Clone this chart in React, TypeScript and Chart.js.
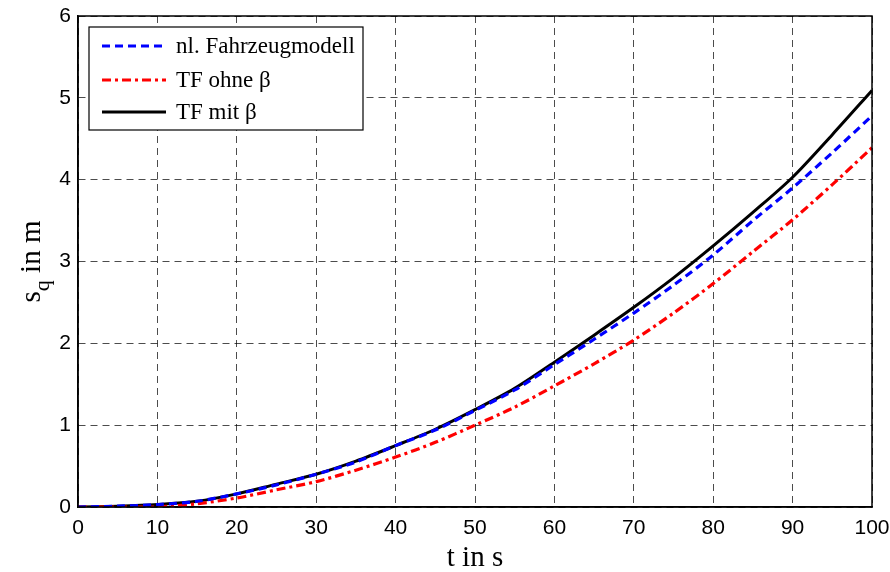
import React, { useEffect, useRef } from "react";
import { Chart, registerables } from "chart.js";

Chart.register(...registerables);

const tValues = [0, 5, 10, 15, 20, 25, 30, 35, 40, 45, 50, 55, 60, 65, 70, 75, 80, 85, 90, 95, 100];
const nlFahrzeugmodell = [0, 0.01, 0.03, 0.07, 0.16, 0.27, 0.40, 0.55, 0.75, 0.94, 1.18, 1.43, 1.74, 2.05, 2.37, 2.71, 3.08, 3.50, 3.90, 4.33, 4.78];
const tfOhneBeta = [0, 0, 0, 0.04, 0.11, 0.21, 0.31, 0.45, 0.61, 0.79, 1.00, 1.22, 1.48, 1.75, 2.04, 2.37, 2.73, 3.12, 3.51, 3.94, 4.39];
const tfMitBeta = [0, 0.01, 0.03, 0.07, 0.16, 0.28, 0.40, 0.56, 0.75, 0.95, 1.19, 1.45, 1.77, 2.10, 2.44, 2.80, 3.19, 3.60, 4.03, 4.55, 5.09];
const seriesLabels = ["nl. Fahrzeugmodell", "TF ohne β", "TF mit β"];
const xTicks = [0, 10, 20, 30, 40, 50, 60, 70, 80, 90, 100];
const yTicks = [0, 1, 2, 3, 4, 5, 6];

const SERIF = "'Liberation Serif', 'Times New Roman', serif";
const SANS = "'Liberation Sans', Arial, sans-serif";

const decoPlugin = {
  id: "deco",
  afterDraw(chart: any) {
    const { ctx, chartArea } = chart;
    const { left, right, top, bottom } = chartArea;
    ctx.save();
    ctx.strokeStyle = "#000";
    ctx.lineWidth = 1.5;
    ctx.setLineDash([]);
    ctx.strokeRect(left, top, right - left, bottom - top);

    ctx.fillStyle = "#000";
    ctx.font = `29px ${SERIF}`;
    ctx.textAlign = "center";
    ctx.textBaseline = "alphabetic";
    ctx.fillText("t in s", (left + right) / 2, 566);

    ctx.save();
    ctx.translate(40, (top + bottom) / 2);
    ctx.rotate(-Math.PI / 2);
    ctx.font = `29px ${SERIF}`;
    const sW = ctx.measureText("s").width;
    ctx.font = `22px ${SERIF}`;
    const qW = ctx.measureText("q").width;
    ctx.font = `29px ${SERIF}`;
    const restW = ctx.measureText(" in m").width;
    const total = sW + qW + restW;
    let x = -total / 2;
    ctx.textAlign = "left";
    ctx.fillText("s", x, 0);
    x += sW;
    ctx.font = `22px ${SERIF}`;
    ctx.fillText("q", x, 9);
    x += qW;
    ctx.font = `29px ${SERIF}`;
    ctx.fillText(" in m", x, 0);
    ctx.restore();

    const bx = 89, by = 27, bw = 274, bh = 103;
    ctx.fillStyle = "#fff";
    ctx.fillRect(bx, by, bw, bh);
    ctx.strokeStyle = "#000";
    ctx.lineWidth = 1.2;
    ctx.strokeRect(bx, by, bw, bh);
    const rows = [46, 80, 112];
    chart.data.datasets.forEach((ds: any, i: number) => {
      const y = rows[i];
      ctx.beginPath();
      ctx.strokeStyle = ds.borderColor;
      ctx.lineWidth = ds.borderWidth;
      ctx.setLineDash(ds.borderDash || []);
      ctx.moveTo(102, y);
      ctx.lineTo(166, y);
      ctx.stroke();
      ctx.setLineDash([]);
      ctx.fillStyle = "#000";
      ctx.font = `23px ${SERIF}`;
      ctx.textAlign = "left";
      ctx.textBaseline = "middle";
      ctx.fillText(ds.label, 176, y + 1);
    });
    ctx.restore();
  },
};

export default function App() {
  const ref = useRef<HTMLCanvasElement | null>(null);
  useEffect(() => {
    if (!ref.current) return;
    const chart = new Chart(ref.current, {
      type: "line",
      data: {
        datasets: [
          {
            label: seriesLabels[0],
            data: tValues.map((t, i) => ({ x: t, y: nlFahrzeugmodell[i] })),
            borderColor: "#0000ff",
            borderWidth: 3.2,
            borderDash: [8, 5],
            pointRadius: 0,
            tension: 0.3,
          },
          {
            label: seriesLabels[1],
            data: tValues.map((t, i) => ({ x: t, y: tfOhneBeta[i] })),
            borderColor: "#ff0000",
            borderWidth: 3.2,
            borderDash: [9, 4, 3, 4],
            pointRadius: 0,
            tension: 0.3,
          },
          {
            label: seriesLabels[2],
            data: tValues.map((t, i) => ({ x: t, y: tfMitBeta[i] })),
            borderColor: "#000000",
            borderWidth: 3,
            pointRadius: 0,
            tension: 0.3,
          },
        ],
      },
      options: {
        animation: false,
        responsive: false,
        maintainAspectRatio: false,
        layout: { autoPadding: false, padding: { left: 0, top: 16, right: 18, bottom: 0 } },
        plugins: { legend: { display: false }, tooltip: { enabled: false } },
        scales: {
          x: {
            type: "linear",
            min: 0,
            max: 100,
            afterBuildTicks: (axis: any) => {
              axis.ticks = xTicks.map((v) => ({ value: v }));
            },
            afterFit: (axis: any) => {
              axis.height = 65;
              axis.paddingLeft = 0;
              axis.paddingRight = 0;
            },
            ticks: {
              color: "#000",
              font: { family: SANS, size: 21 },
              padding: 9,
              maxRotation: 0,
            },
            grid: {
              color: "rgba(0,0,0,0.7)",
              lineWidth: 1,
              drawTicks: false,
            },
            border: { display: true, color: "#000", width: 1.5, dash: [7, 5] },
          },
          y: {
            type: "linear",
            min: 0,
            max: 6,
            afterBuildTicks: (axis: any) => {
              axis.ticks = yTicks.map((v) => ({ value: v }));
            },
            afterFit: (axis: any) => {
              axis.width = 78;
              axis.paddingTop = 0;
              axis.paddingBottom = 0;
            },
            ticks: {
              color: "#000",
              font: { family: SANS, size: 21 },
              padding: 7,
            },
            grid: {
              color: "rgba(0,0,0,0.7)",
              lineWidth: 1,
              drawTicks: false,
            },
            border: { display: true, color: "#000", width: 1.5, dash: [7, 5] },
          },
        },
      } as any,
      plugins: [decoPlugin],
    });
    return () => chart.destroy();
  }, []);
  return (
    <div style={{ position: "fixed", left: 0, top: 0, width: 890, height: 572, background: "#fff" }}>
      <canvas ref={ref} width={890} height={572} style={{ display: "block" }} />
    </div>
  );
}
